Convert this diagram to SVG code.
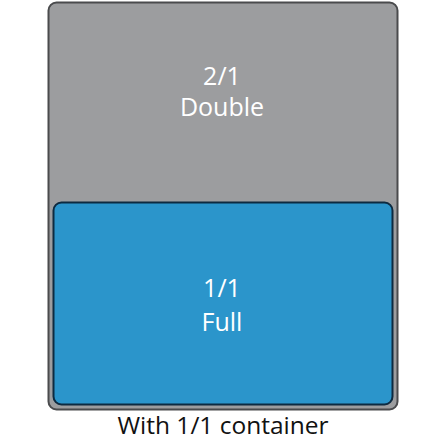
<svg xmlns="http://www.w3.org/2000/svg" width="440" height="440" viewBox="0 0 440 440">
<style>
.lbl{font-family:"Open Sans","Noto Sans",sans-serif;font-size:25px;fill:#ffffff;text-anchor:middle}
.cap{font-family:"Open Sans","Noto Sans",sans-serif;font-size:24.5px;fill:#111111;text-anchor:middle}
</style>
<rect width="440" height="440" fill="#ffffff"/>
<g id="double">
<rect x="48.5" y="2.5" width="349" height="407" rx="8" fill="#9c9d9f" stroke="#4a4b4d" stroke-width="2"/>
<text class="lbl" x="222" y="85">2/1</text>
<text class="lbl" x="222" y="116">Double</text>
</g>
<g id="full">
<rect x="53.5" y="202.5" width="339" height="202" rx="8" fill="#2b95cb" stroke="#0d2a40" stroke-width="2"/>
<text class="lbl" x="222" y="297">1/1</text>
<text class="lbl" x="222" y="331">Full</text>
</g>
<g id="connectors"></g>
<text class="cap" x="223" y="434">With 1/1 container</text>
</svg>
